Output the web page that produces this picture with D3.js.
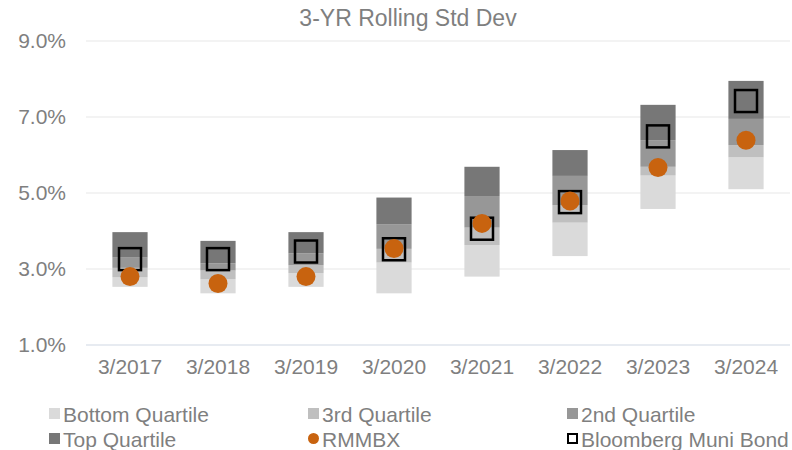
<!DOCTYPE html>
<html>
<head>
<meta charset="utf-8">
<script src="https://cdn.jsdelivr.net/npm/d3@7"></script>
<style>
  body { margin: 0; background: #fff; }
  svg { font-family: "Liberation Sans", Arial, sans-serif; }
</style>
</head>
<body>
<div id="chart"></div>
<script>

// categories and values (percent)
let categories = ["3/2017", "3/2018", "3/2019", "3/2020", "3/2021", "3/2022", "3/2023", "3/2024"];

// quartile boundaries, from the low end up
let bottomLow  = [2.53, 2.36, 2.53, 2.36, 2.80, 3.34, 4.58, 5.10];
let bottomHigh = [2.78, 2.73, 2.89, 3.17, 3.63, 4.22, 5.46, 5.94];
let thirdHigh  = [3.03, 2.96, 3.10, 3.53, 4.09, 4.68, 5.69, 6.26];
let secondHigh = [3.30, 3.15, 3.41, 4.18, 4.92, 5.45, 6.39, 6.95];
let topHigh    = [3.97, 3.74, 3.97, 4.88, 5.69, 6.13, 7.32, 7.95];

let rmmbx     = [2.80, 2.62, 2.80, 3.54, 4.20, 4.79, 5.67, 6.39];
let bloomberg = [3.26, 3.26, 3.46, 3.52, 4.06, 4.76, 6.49, 7.42];

let yTicks = [1, 3, 5, 7, 9];

let w = 792, h = 450;
let margin = {top: 41, right: 2, bottom: 105, left: 86};

let svg = d3.select("#chart").append("svg")
    .attr("width", w)
    .attr("height", h);

let x = d3.scaleBand()
    .domain(categories)
    .range([margin.left, w - margin.right]);

let y = d3.scaleLinear()
    .domain([1, 9])
    .range([h - margin.bottom, margin.top]);

let barWidth = x.bandwidth() * 0.4;

// title
svg.append("text")
    .attr("x", 408)
    .attr("y", 26)
    .attr("text-anchor", "middle")
    .style("font-size", "23px")
    .style("fill", "#7f7f7f")
    .text("3-YR Rolling Std Dev");

// gridlines
svg.append("g")
    .selectAll("line")
    .data(yTicks)
    .enter().append("line")
    .attr("x1", margin.left)
    .attr("x2", w - margin.right)
    .attr("y1", d => y(d))
    .attr("y2", d => y(d))
    .style("stroke", d => d === 1 ? "#dfe4ec" : "#efefef")
    .style("stroke-width", 1.5);

// y axis labels
let yAxis = d3.axisLeft(y)
    .tickValues(yTicks)
    .tickFormat(d => d.toFixed(1) + "%")
    .tickSize(0)
    .tickPadding(20);

svg.append("g")
    .attr("transform", "translate(" + margin.left + ",0)")
    .call(yAxis)
    .call(g => g.select(".domain").remove())
    .selectAll("text")
    .style("font-size", "21px")
    .style("font-family", "Liberation Sans, Arial, sans-serif")
    .style("fill", "#7f7f7f");

// x axis labels
let xAxis = d3.axisBottom(x).tickSize(0).tickPadding(14);

svg.append("g")
    .attr("transform", "translate(0," + (h - margin.bottom) + ")")
    .call(xAxis)
    .call(g => g.select(".domain").remove())
    .selectAll("text")
    .style("font-size", "21px")
    .style("font-family", "Liberation Sans, Arial, sans-serif")
    .style("fill", "#7f7f7f");

// quartile segments
let segments = [
    {name: "Bottom Quartile", lo: bottomLow,  hi: bottomHigh, fill: "#dadada"},
    {name: "3rd Quartile",    lo: bottomHigh, hi: thirdHigh,  fill: "#bfbfbf"},
    {name: "2nd Quartile",    lo: thirdHigh,  hi: secondHigh, fill: "#979797"},
    {name: "Top Quartile",    lo: secondHigh, hi: topHigh,    fill: "#777777"}
];

segments.forEach(function(s) {
    svg.append("g")
        .selectAll("rect")
        .data(categories)
        .enter().append("rect")
        .attr("x", d => x(d) + (x.bandwidth() - barWidth) / 2)
        .attr("width", barWidth)
        .attr("y", (d, i) => y(s.hi[i]))
        .attr("height", (d, i) => y(s.lo[i]) - y(s.hi[i]))
        .style("fill", s.fill);
});

// Bloomberg Muni Bond squares
let sq = 22;
svg.append("g")
    .selectAll("rect")
    .data(categories)
    .enter().append("rect")
    .attr("x", d => x(d) + x.bandwidth() / 2 - sq / 2)
    .attr("y", (d, i) => y(bloomberg[i]) - sq / 2)
    .attr("width", sq)
    .attr("height", sq)
    .style("fill", "none")
    .style("stroke", "#000")
    .style("stroke-width", 2.5);

// RMMBX circles
svg.append("g")
    .selectAll("circle")
    .data(categories)
    .enter().append("circle")
    .attr("cx", d => x(d) + x.bandwidth() / 2)
    .attr("cy", (d, i) => y(rmmbx[i]))
    .attr("r", 9.5)
    .style("fill", "#c8630f");

// legend
let legendItems = [
    {name: "Bottom Quartile", type: "box", fill: "#dadada"},
    {name: "3rd Quartile", type: "box", fill: "#bfbfbf"},
    {name: "2nd Quartile", type: "box", fill: "#979797"},
    {name: "Top Quartile", type: "box", fill: "#777777"},
    {name: "RMMBX", type: "dot", fill: "#c8630f"},
    {name: "Bloomberg Muni Bond", type: "open", fill: "none"}
];
let colX = [49, 308, 567],
    rowY = [414, 439];

let item = svg.append("g")
    .selectAll("g")
    .data(legendItems)
    .enter().append("g")
    .attr("transform", (d, i) => "translate(" + colX[i % 3] + "," + rowY[Math.floor(i / 3)] + ")");

item.filter(d => d.type === "box").append("rect")
    .attr("x", 0).attr("y", -6)
    .attr("width", 11).attr("height", 11)
    .style("fill", d => d.fill);

item.filter(d => d.type === "dot").append("circle")
    .attr("cx", 5.5).attr("cy", -0.5)
    .attr("r", 5.5)
    .style("fill", d => d.fill);

item.filter(d => d.type === "open").append("rect")
    .attr("x", 1).attr("y", -5)
    .attr("width", 9).attr("height", 9)
    .style("fill", "none")
    .style("stroke", "#000")
    .style("stroke-width", 2);

item.append("text")
    .attr("x", 14)
    .attr("y", 7.5)
    .style("font-size", "21px")
    .style("fill", "#7f7f7f")
    .text(d => d.name);

</script>
</body>
</html>
